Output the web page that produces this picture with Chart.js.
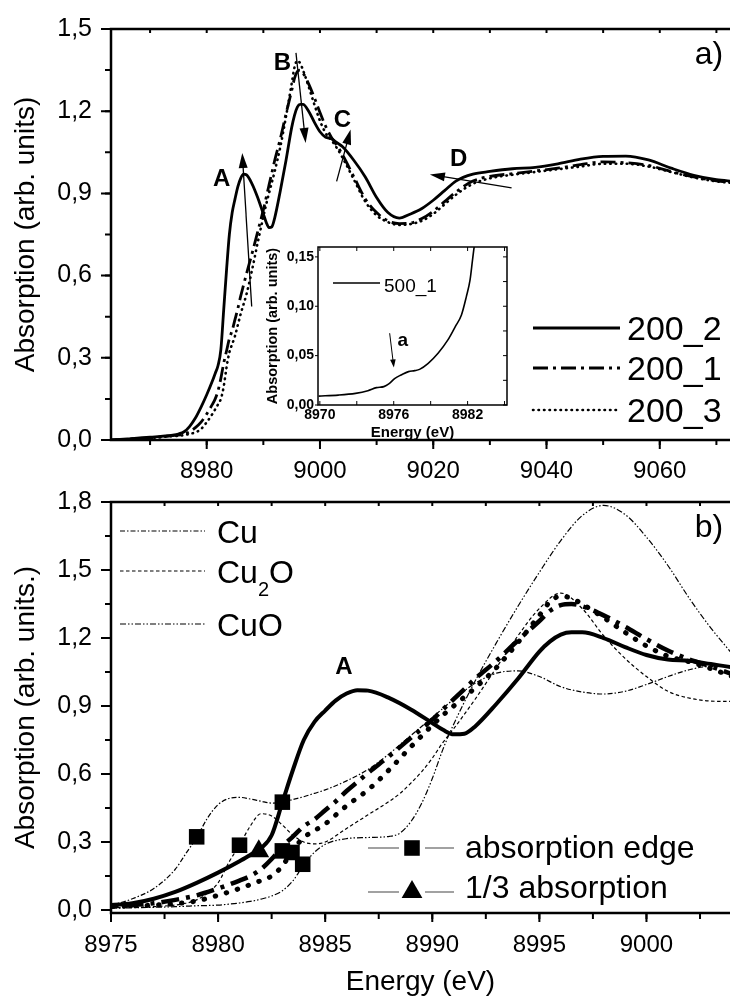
<!DOCTYPE html>
<html>
<head>
<meta charset="utf-8">
<script src="https://cdn.jsdelivr.net/npm/chart.js@4.4.1/dist/chart.umd.min.js"></script>
<style>
  html, body { margin: 0; padding: 0; background: #fff; width: 730px; height: 999px; overflow: hidden; }
  canvas { position: absolute; display: block; }
  #panelA { left: 0; top: 0; width: 730px; height: 490px; }
  #panelB { left: 0; top: 490px; width: 730px; height: 509px; }
  #inset  { left: 255px; top: 238px; width: 262px; height: 210px; }
</style>
</head>
<body>
<canvas id="panelA" width="730" height="490"></canvas>
<canvas id="panelB" width="730" height="509"></canvas>
<canvas id="inset" width="262" height="210"></canvas>
<script>
// ---------- Cu K-edge XANES of the 200_x samples (energy in eV) ----------
const energy = [
  8963, 8966, 8970, 8974, 8975, 8976, 8977, 8978, 8979, 8980,
  8981, 8981.5, 8982, 8982.5, 8983, 8983.5, 8984, 8984.5, 8985, 8985.5,
  8986, 8986.5, 8987, 8988, 8989, 8990, 8990.5, 8991, 8991.5, 8992,
  8993, 8994, 8995, 8995.5, 8996, 8996.5, 8997, 8998, 8999, 9000,
  9001, 9002, 9003, 9004, 9006, 9008, 9010, 9012, 9014, 9016,
  9018, 9020, 9022, 9024, 9027, 9030, 9034, 9038, 9042, 9046,
  9050, 9054, 9058, 9062, 9066, 9070, 9073
];
const abs200_2 = [
  0.000, 0.004, 0.010, 0.018, 0.022, 0.030, 0.050, 0.080, 0.120, 0.165,
  0.215, 0.243, 0.272, 0.330, 0.475, 0.620, 0.750, 0.830, 0.880, 0.925,
  0.955, 0.970, 0.968, 0.935, 0.885, 0.825, 0.795, 0.775, 0.778, 0.810,
  0.910, 1.020, 1.140, 1.185, 1.215, 1.225, 1.225, 1.200, 1.160, 1.125,
  1.105, 1.100, 1.085, 1.070, 1.020, 0.960, 0.885, 0.830, 0.810, 0.825,
  0.845, 0.875, 0.910, 0.945, 0.970, 0.980, 0.990, 0.995, 1.008, 1.025,
  1.035, 1.036, 1.022, 0.992, 0.966, 0.950, 0.944
];
const abs200_1 = [
  0.000, 0.003, 0.008, 0.016, 0.018, 0.022, 0.030, 0.045, 0.065, 0.095,
  0.130, 0.150, 0.180, 0.225, 0.280, 0.325, 0.370, 0.400, 0.440, 0.480,
  0.525, 0.565, 0.605, 0.680, 0.760, 0.840, 0.885, 0.930, 0.975, 1.020,
  1.100, 1.190, 1.275, 1.320, 1.345, 1.350, 1.340, 1.300, 1.250, 1.195,
  1.145, 1.105, 1.075, 1.040, 0.960, 0.880, 0.830, 0.800, 0.790, 0.792,
  0.808, 0.835, 0.870, 0.905, 0.945, 0.962, 0.972, 0.982, 0.992, 1.005,
  1.015, 1.012, 1.002, 0.980, 0.960, 0.946, 0.940
];
const abs200_3 = [
  0.000, 0.003, 0.007, 0.014, 0.015, 0.018, 0.022, 0.028, 0.040, 0.065,
  0.095, 0.112, 0.130, 0.150, 0.195, 0.265, 0.320, 0.350, 0.380, 0.420,
  0.460, 0.495, 0.530, 0.620, 0.720, 0.815, 0.860, 0.900, 0.940, 0.980,
  1.070, 1.180, 1.300, 1.360, 1.385, 1.375, 1.350, 1.290, 1.225, 1.165,
  1.120, 1.095, 1.065, 1.030, 0.950, 0.870, 0.820, 0.795, 0.785, 0.788,
  0.800, 0.825, 0.860, 0.895, 0.935, 0.955, 0.968, 0.978, 0.988, 0.998,
  1.008, 1.008, 0.998, 0.978, 0.958, 0.944, 0.938
];

// ---------- pre-edge of sample 500_1 (inset) ----------
const insetEnergy = [
  8969.9, 8971.5, 8972.9, 8973.9, 8974.6, 8975.2, 8975.6, 8976.1, 8976.6, 8977.2, 8977.7,
  8978.1, 8978.8, 8979.6, 8980.4, 8981.0, 8981.5, 8981.9, 8982.2, 8982.4, 8982.5, 8982.6
];
const abs500_1 = [
  0.0090, 0.0100, 0.0118, 0.0145, 0.0176, 0.0186, 0.0213, 0.0270, 0.0304, 0.0338, 0.0348,
  0.0361, 0.0422, 0.0524, 0.0659, 0.0794, 0.0912, 0.1098, 0.1267, 0.1470, 0.1570, 0.1660
];

// ---------- reference compounds ----------
const refEnergy = [
  8975, 8976, 8977, 8978, 8978.5, 8979, 8979.5, 8980, 8980.5, 8981,
  8981.5, 8982, 8982.5, 8983, 8983.5, 8984, 8984.5, 8985, 8986, 8987,
  8988, 8988.5, 8989, 8989.5, 8990, 8990.5, 8991, 8992, 8993, 8994,
  8995, 8996, 8997, 8998, 8999, 9000, 9001, 9002, 9003, 9004
];
const absCu = [
  0.020, 0.050, 0.095, 0.180, 0.250, 0.320, 0.405, 0.465, 0.492, 0.497,
  0.490, 0.480, 0.472, 0.475, 0.488, 0.500, 0.515, 0.530, 0.570, 0.620,
  0.690, 0.730, 0.770, 0.810, 0.850, 0.890, 0.930, 1.000, 1.045, 1.055,
  1.030, 0.985, 0.962, 0.953, 0.965, 0.995, 1.030, 1.060, 1.075, 1.075
];
const absCu2O = [
  0.010, 0.012, 0.015, 0.022, 0.030, 0.045, 0.075, 0.120, 0.210, 0.287,
  0.370, 0.425, 0.415, 0.375, 0.330, 0.300, 0.292, 0.300, 0.360, 0.420,
  0.480, 0.515, 0.560, 0.610, 0.670, 0.740, 0.800, 0.930, 1.070, 1.210,
  1.330, 1.398, 1.330, 1.210, 1.110, 1.030, 0.965, 0.935, 0.922, 0.920
];
const absCuO = [
  0.008, 0.010, 0.012, 0.015, 0.017, 0.019, 0.020, 0.022, 0.026, 0.031,
  0.038, 0.048, 0.062, 0.085, 0.130, 0.200, 0.255, 0.290, 0.315, 0.320,
  0.325, 0.340, 0.390, 0.470, 0.580, 0.710, 0.820, 1.010, 1.180, 1.340,
  1.490, 1.630, 1.740, 1.785, 1.745, 1.645, 1.520, 1.375, 1.245, 1.130
];

// ---------- edge positions ----------
const edgeEnergy = [8979.0, 8981.0, 8983.0, 8983.0, 8983.45, 8983.95];
const edgeAbs    = [0.323, 0.286, 0.476, 0.261, 0.254, 0.202];
const thirdEnergy = [8981.9];
const thirdAbs    = [0.259];

// ---------- tick values ----------
const xTicksA = [8980, 9000, 9020, 9040, 9060];
const yTicksA = [0, 0.3, 0.6, 0.9, 1.2, 1.5];
const xTicksB = [8975, 8980, 8985, 8990, 8995, 9000];
const yTicksB = [0, 0.3, 0.6, 0.9, 1.2, 1.5, 1.8];
const xTicksInset = [8970, 8976, 8982];
const yTicksInset = [0, 0.05, 0.10, 0.15];

// ---------- helpers ----------
const FAM = "'Liberation Sans', Arial, Helvetica, sans-serif";
Chart.defaults.font.family = FAM;
Chart.defaults.color = '#000';
Chart.defaults.animation = false;

const pairs = (xs, ys) => xs.map((x, i) => ({ x, y: ys[i] }));
const comma = d => v => Number(v).toFixed(d).replace('.', ',');
const fixedTicks = values => scale => { scale.ticks = values.map(v => ({ value: v })); };

// fixed-size axis boxes without any extra label overflow padding
const fixedWidth = w => s => { s.width = w; s.paddingLeft = s.paddingRight = s.paddingTop = s.paddingBottom = 0; };
const fixedHeight = h => s => { s.height = h; s.paddingLeft = s.paddingRight = s.paddingTop = s.paddingBottom = 0; };

function stepValues(min, max, step) {
  const out = [];
  for (let k = Math.ceil(min / step - 1e-9); k * step <= max + 1e-9; k++) out.push(+(k * step).toFixed(5));
  return out;
}

// tick marks along one side of the plot box; positive len = outward for left/bottom, inward for top/right
function tickRun(ctx, a, scale, side, values, len) {
  ctx.beginPath();
  for (const v of values) {
    const p = scale.getPixelForValue(v);
    if (side === 'bottom') { ctx.moveTo(p, a.bottom); ctx.lineTo(p, a.bottom + len); }
    else if (side === 'top') { ctx.moveTo(p, a.top); ctx.lineTo(p, a.top + len); }
    else if (side === 'left') { ctx.moveTo(a.left, p); ctx.lineTo(a.left - len, p); }
    else if (side === 'right') { ctx.moveTo(a.right, p); ctx.lineTo(a.right - len, p); }
  }
  ctx.stroke();
}

function drawBox(ctx, a, sides, lw) {
  ctx.save();
  ctx.lineWidth = lw; ctx.strokeStyle = '#000'; ctx.lineCap = 'square';
  ctx.beginPath();
  if (sides.includes('left')) { ctx.moveTo(a.left, a.top); ctx.lineTo(a.left, a.bottom); }
  if (sides.includes('bottom')) { ctx.moveTo(a.left, a.bottom); ctx.lineTo(a.right, a.bottom); }
  if (sides.includes('top')) { ctx.moveTo(a.left, a.top); ctx.lineTo(a.right, a.top); }
  if (sides.includes('right')) { ctx.moveTo(a.right, a.top); ctx.lineTo(a.right, a.bottom); }
  ctx.stroke();
  ctx.restore();
}

function arrow(ctx, x0, y0, x1, y1, len, half, lw) {
  const ang = Math.atan2(y1 - y0, x1 - x0);
  const c = Math.cos(ang), s = Math.sin(ang);
  ctx.lineWidth = lw;
  ctx.beginPath();
  ctx.moveTo(x0, y0);
  ctx.lineTo(x1 - c * len * 0.7, y1 - s * len * 0.7);
  ctx.stroke();
  ctx.beginPath();
  ctx.moveTo(x1, y1);
  ctx.lineTo(x1 - c * len - s * half, y1 - s * len + c * half);
  ctx.lineTo(x1 - c * len + s * half, y1 - s * len - c * half);
  ctx.closePath();
  ctx.fill();
}

function sampleLine(ctx, ds, x0, x1, y) {
  ctx.save();
  ctx.strokeStyle = '#000';
  ctx.lineWidth = ds.borderWidth;
  ctx.setLineDash(ds.borderDash || []);
  ctx.lineCap = ds.borderCapStyle || 'butt';
  ctx.beginPath(); ctx.moveTo(x0, y); ctx.lineTo(x1, y); ctx.stroke();
  ctx.restore();
}

const lineBase = { borderColor: '#000', backgroundColor: '#000', pointRadius: 0, fill: false, cubicInterpolationMode: 'monotone' };

// ================= panel a) =================
const dsA = [
  { ...lineBase, label: '200_3', data: pairs(energy, abs200_3), borderWidth: 2.6, borderDash: [0.5, 5], borderCapStyle: 'round' },
  { ...lineBase, label: '200_1', data: pairs(energy, abs200_1), borderWidth: 2.8, borderDash: [15, 5, 3, 5] },
  { ...lineBase, label: '200_2', data: pairs(energy, abs200_2), borderWidth: 2.8 }
];

const panelADecor = {
  id: 'panelADecor',
  afterDatasetsDraw(chart) {
    const { ctx, scales: { x, y } } = chart;
    const P = (e, v) => [x.getPixelForValue(e), y.getPixelForValue(v)];
    ctx.save();
    ctx.fillStyle = '#000'; ctx.strokeStyle = '#000';
    const arrows = [
      [8987.94, 0.487, 8986.28, 1.047],
      [8995.76, 1.413, 8997.47, 1.084],
      [9002.94, 0.944, 9005.41, 1.133],
      [9033.83, 0.920, 9019.41, 0.969]
    ];
    for (const [e0, v0, e1, v1] of arrows) {
      const [x0, y0] = P(e0, v0), [x1, y1] = P(e1, v1);
      arrow(ctx, x0, y0, x1, y1, 15, 4.5, 1.3);
    }
    ctx.font = 'bold 24px ' + FAM;
    ctx.textAlign = 'center'; ctx.textBaseline = 'middle';
    for (const [t, e, v] of [['A', 8982.64, 0.952], ['B', 8993.37, 1.376], ['C', 9003.96, 1.167], ['D', 9024.48, 1.023]]) {
      const [px, py] = P(e, v);
      ctx.fillText(t, px, py);
    }
    ctx.restore();
  },
  afterDraw(chart) {
    const { ctx, chartArea: a, scales: { x, y } } = chart;
    drawBox(ctx, a, ['left', 'bottom', 'top'], 2.5);
    ctx.save();
    ctx.strokeStyle = '#000'; ctx.lineWidth = 2;
    tickRun(ctx, a, y, 'left', yTicksA, 10);
    tickRun(ctx, a, y, 'left', stepValues(y.min, y.max, 0.15), 6);
    tickRun(ctx, a, x, 'bottom', xTicksA, 9);
    tickRun(ctx, a, x, 'bottom', stepValues(x.min, x.max, 10), 5);
    tickRun(ctx, a, x, 'top', stepValues(x.min, x.max, 10), 4);
    // legend
    const rows = [[dsA[2], 328, 340], [dsA[1], 368, 380], [dsA[0], 410, 422]];
    ctx.fillStyle = '#000';
    ctx.font = '34px ' + FAM; ctx.textAlign = 'left'; ctx.textBaseline = 'alphabetic';
    for (const [ds, ly, by] of rows) {
      sampleLine(ctx, ds, 533, 620, ly);
      ctx.fillText(ds.label, 627, by);
    }
    ctx.font = '32px ' + FAM; ctx.textAlign = 'center';
    ctx.fillText('a)', 709, 64);
    ctx.restore();
  }
};

new Chart(document.getElementById('panelA'), {
  type: 'line',
  data: { datasets: dsA },
  options: {
    responsive: false, animation: false,
    layout: { autoPadding: false, padding: { top: 29, left: 0, right: 0, bottom: 0 } },
    plugins: { legend: { display: false }, tooltip: { enabled: false } },
    scales: {
      x: {
        type: 'linear', min: 8963.1, max: 9072.4,
        afterBuildTicks: fixedTicks(xTicksA),
        afterFit: fixedHeight(50),
        grid: { display: false, drawTicks: false }, border: { display: false },
        ticks: { font: { size: 24 }, padding: 17, maxRotation: 0, autoSkip: false, callback: v => String(v) }
      },
      y: {
        min: 0, max: 1.5,
        afterBuildTicks: fixedTicks(yTicksA),
        afterFit: fixedWidth(111),
        grid: { display: false, drawTicks: false }, border: { display: false },
        ticks: { font: { size: 25 }, padding: 19, autoSkip: false, callback: comma(1) },
        title: { display: true, text: 'Absorption (arb. units)', font: { size: 28 }, padding: { top: 9, bottom: 0 } }
      }
    }
  },
  plugins: [panelADecor]
});

// ================= inset (500_1) =================
const dsInset = [
  { ...lineBase, label: '500_1', data: pairs(insetEnergy, abs500_1), borderWidth: 1.6 }
];

const insetDecor = {
  id: 'insetDecor',
  beforeDatasetsDraw(chart) {
    const { ctx, chartArea: a } = chart;
    ctx.save(); ctx.fillStyle = '#fff';
    ctx.fillRect(a.left, a.top, a.right - a.left, a.bottom - a.top);
    ctx.restore();
  },
  afterDraw(chart) {
    const { ctx, chartArea: a, scales: { x, y } } = chart;
    drawBox(ctx, a, ['left', 'top', 'right', 'bottom'], 1.5);
    ctx.save();
    ctx.strokeStyle = '#000'; ctx.lineWidth = 1;
    tickRun(ctx, a, y, 'left', stepValues(y.min, y.max, 0.05), 3);
    tickRun(ctx, a, y, 'right', stepValues(y.min, y.max, 0.025), 4);
    tickRun(ctx, a, x, 'bottom', stepValues(8970, x.max, 3), -4);
    tickRun(ctx, a, x, 'top', stepValues(8970, x.max, 3), 4);
    // legend
    sampleLine(ctx, dsInset[0], 78, 125, 45);
    ctx.fillStyle = '#000';
    ctx.font = '19px ' + FAM; ctx.textAlign = 'left'; ctx.textBaseline = 'alphabetic';
    ctx.fillText('500_1', 129, 54);
    // feature a
    const P = (e, v) => [x.getPixelForValue(e), y.getPixelForValue(v)];
    const [x0, y0] = P(8975.67, 0.0727), [x1, y1] = P(8976.01, 0.0380);
    arrow(ctx, x0, y0, x1, y1, 8, 2.8, 1);
    ctx.font = 'bold 19px ' + FAM; ctx.textAlign = 'center'; ctx.textBaseline = 'middle';
    const [lx, ly] = P(8976.74, 0.0649);
    ctx.fillText('a', lx, ly);
    ctx.restore();
  }
};

new Chart(document.getElementById('inset'), {
  type: 'line',
  data: { datasets: dsInset },
  options: {
    responsive: false, animation: false,
    layout: { autoPadding: false, padding: { top: 9, left: 0, right: 10, bottom: 0 } },
    plugins: { legend: { display: false }, tooltip: { enabled: false } },
    scales: {
      x: {
        type: 'linear', min: 8969.85, max: 8985.2,
        afterBuildTicks: fixedTicks(xTicksInset),
        afterFit: fixedHeight(43),
        grid: { display: false, drawTicks: false }, border: { display: false },
        ticks: { font: { size: 14, weight: 'bold' }, padding: 2, maxRotation: 0, autoSkip: false, callback: v => String(v) },
        title: { display: true, text: 'Energy (eV)', font: { size: 15, weight: 'bold' }, padding: { top: 0, bottom: 6 } }
      },
      y: {
        min: 0, max: 0.16,
        afterBuildTicks: fixedTicks(yTicksInset),
        afterFit: fixedWidth(63),
        grid: { display: false, drawTicks: false }, border: { display: false },
        ticks: { font: { size: 14, weight: 'bold' }, padding: 4, autoSkip: false, callback: comma(2) },
        title: { display: true, text: 'Absorption (arb. units)', font: { size: 14.5, weight: 'bold' }, padding: { top: 9, bottom: 0 } }
      }
    }
  },
  plugins: [insetDecor]
});

// ================= panel b) =================
const dsB = [
  { ...lineBase, label: 'Cu',   data: pairs(refEnergy, absCu),   borderWidth: 1.2, borderDash: [5, 2, 1.5, 2] },
  { ...lineBase, label: 'Cu2O', data: pairs(refEnergy, absCu2O), borderWidth: 1.2, borderDash: [3.5, 2.5] },
  { ...lineBase, label: 'CuO',  data: pairs(refEnergy, absCuO),  borderWidth: 1.2, borderDash: [6, 2, 1.5, 2, 1.5, 2] },
  { ...lineBase, label: '200_3', data: pairs(energy, abs200_3), borderWidth: 5, borderDash: [0.5, 11], borderCapStyle: 'round' },
  { ...lineBase, label: '200_1', data: pairs(energy, abs200_1), borderWidth: 4.5, borderDash: [18, 7, 4, 7] },
  { ...lineBase, label: '200_2', data: pairs(energy, abs200_2), borderWidth: 4 },
  { label: 'absorption edge', data: pairs(edgeEnergy, edgeAbs), showLine: false, pointStyle: 'rect', pointRadius: 11, pointBorderWidth: 0, backgroundColor: '#000', borderColor: '#000' },
  { label: '1/3 absorption', data: pairs(thirdEnergy, thirdAbs), showLine: false, pointStyle: 'triangle', pointRadius: 12, pointBorderWidth: 0, backgroundColor: '#000', borderColor: '#000' }
];

const panelBDecor = {
  id: 'panelBDecor',
  afterDraw(chart) {
    const { ctx, chartArea: a, scales: { x, y } } = chart;
    drawBox(ctx, a, ['left', 'bottom', 'top'], 2.5);
    ctx.save();
    ctx.strokeStyle = '#000'; ctx.lineWidth = 2;
    tickRun(ctx, a, y, 'left', yTicksB, 10);
    tickRun(ctx, a, y, 'left', stepValues(0, y.max, 0.15), 6);
    tickRun(ctx, a, x, 'bottom', xTicksB, 9);
    tickRun(ctx, a, x, 'bottom', stepValues(x.min, x.max, 2.5), 6);
    tickRun(ctx, a, x, 'top', stepValues(x.min, x.max, 2.5), 4);

    ctx.fillStyle = '#000';
    // peak label
    ctx.font = 'bold 24px ' + FAM; ctx.textAlign = 'center'; ctx.textBaseline = 'middle';
    ctx.fillText('A', x.getPixelForValue(8985.87), y.getPixelForValue(1.07));
    // panel label
    ctx.font = '32px ' + FAM; ctx.textBaseline = 'alphabetic';
    ctx.fillText('b)', 709, 47);

    // reference legend
    ctx.textAlign = 'left';
    sampleLine(ctx, dsB[0], 120, 205, 41);
    sampleLine(ctx, dsB[1], 120, 205, 81);
    sampleLine(ctx, dsB[2], 120, 205, 134);
    ctx.font = '32px ' + FAM;
    ctx.fillText('Cu', 217, 53);
    ctx.fillText('Cu', 217, 93);
    const wCu = ctx.measureText('Cu').width;
    ctx.font = '20px ' + FAM;
    ctx.fillText('2', 217 + wCu, 106);
    const w2 = ctx.measureText('2').width;
    ctx.font = '32px ' + FAM;
    ctx.fillText('O', 217 + wCu + w2, 93);
    ctx.fillText('CuO', 217, 146);

    // marker legend
    ctx.strokeStyle = '#444'; ctx.lineWidth = 1.2;
    for (const ly of [358, 402]) {
      ctx.beginPath();
      ctx.moveTo(368, ly); ctx.lineTo(399, ly);
      ctx.moveTo(425, ly); ctx.lineTo(454, ly);
      ctx.stroke();
    }
    Chart.helpers.drawPoint(ctx, { pointStyle: 'rect', radius: 11, rotation: 0, borderWidth: 0 }, 412, 358);
    Chart.helpers.drawPoint(ctx, { pointStyle: 'triangle', radius: 12, rotation: 0, borderWidth: 0 }, 412, 402);
    ctx.fillStyle = '#000';
    ctx.fillText('absorption edge', 465, 368);
    ctx.fillText('1/3 absorption', 465, 408);
    ctx.restore();
  }
};

new Chart(document.getElementById('panelB'), {
  type: 'line',
  data: { datasets: dsB },
  options: {
    responsive: false, animation: false,
    layout: { autoPadding: false, padding: { top: 12, left: 0, right: 0, bottom: 0 } },
    plugins: { legend: { display: false }, tooltip: { enabled: false } },
    scales: {
      x: {
        type: 'linear', min: 8975, max: 9003.9,
        afterBuildTicks: fixedTicks(xTicksB),
        afterFit: fixedHeight(86),
        grid: { display: false, drawTicks: false }, border: { display: false },
        ticks: { font: { size: 24 }, padding: 18, maxRotation: 0, autoSkip: false, callback: v => String(v) },
        title: { display: true, text: 'Energy (eV)', font: { size: 28 }, padding: { top: 0, bottom: 0 } }
      },
      y: {
        min: -0.013, max: 1.8,
        afterBuildTicks: fixedTicks(yTicksB),
        afterFit: fixedWidth(111),
        grid: { display: false, drawTicks: false }, border: { display: false },
        ticks: { font: { size: 25 }, padding: 19, autoSkip: false, callback: comma(1) },
        title: { display: true, text: 'Absorption (arb. units.)', font: { size: 28 }, padding: { top: 9, bottom: 0 } }
      }
    }
  },
  plugins: [panelBDecor]
});
</script>
</body>
</html>
